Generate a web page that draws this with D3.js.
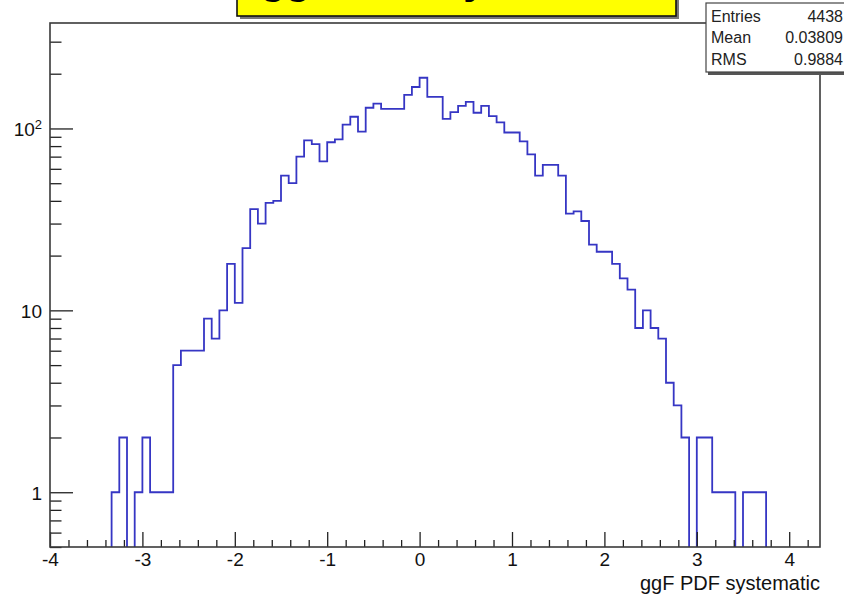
<!DOCTYPE html>
<html>
<head>
<meta charset="utf-8">
<script src="https://cdn.jsdelivr.net/npm/d3@7"></script>
<style>
  html, body { margin: 0; padding: 0; background: #fff; }
  svg { display: block; font-family: "Liberation Sans", Arial, Helvetica, sans-serif; }
</style>
</head>
<body>
<svg id="chart" width="844" height="598"></svg>
<script>
// Histogram title and axis title
const histTitle = "ggF PDF systematic";
const xAxisTitle = "ggF PDF systematic";

// Binning: 100 bins of width 1/12 starting at -4
const xMin = -4;
const binWidth = 1 / 12;

// Bin contents
const counts = [
  0, 0, 0, 0, 0, 0, 0, 0,
  1, 2, 0, 1, 2, 1, 1, 1,
  5, 6, 6, 6, 9, 7, 10, 18, 11, 22, 36, 30, 39, 40,
  55, 50, 70, 86, 82, 66, 84, 87, 105, 116,
  96, 130, 137, 128, 128, 128, 153, 169, 190, 149,
  149, 113, 123, 133, 140, 122, 133, 117, 108, 95,
  95, 85, 72, 55, 63, 63, 55, 34, 35, 31,
  23, 21, 21, 18, 15, 13, 8, 10, 8, 7,
  4, 3, 2, 0, 2, 2, 1, 1, 1, 0,
  1, 1, 1,
  0, 0, 0, 0, 0, 0, 0
];

// Axis ticks
const xMajorTicks = [-4, -3, -2, -1, 0, 1, 2, 3, 4];
const xMajorLabels = ["-4", "-3", "-2", "-1", "0", "1", "2", "3", "4"];
const xMinorStep = 0.2;
const yMajorTicks = [1, 10, 100];
const yMajorLabels = [["1", ""], ["10", ""], ["10", "2"]];

// Statistics box
const statNames = ["Entries", "Mean", "RMS"];
const statValues = ["4438", "0.03809", "0.9884"];

const svg = d3.select("#chart");
const frame = { left: 50, top: 23, right: 820, bottom: 547 };

const xMax = xMin + counts.length * binWidth;
const x = d3.scaleLinear().domain([xMin, xMax]).range([frame.left, frame.right]);
const yMin = 0.5, yMax = 2 * d3.max(counts);
const y = d3.scaleLog().domain([yMin, yMax]).range([frame.bottom, frame.top]);

svg.append("rect").attr("width", 844).attr("height", 598).attr("fill", "#fff");

// clip for the histogram outline
svg.append("clipPath").attr("id", "frameClip")
  .append("rect")
  .attr("x", frame.left).attr("y", frame.top)
  .attr("width", frame.right - frame.left).attr("height", frame.bottom - frame.top);

// step outline of the histogram
const pts = [[x(xMin), frame.bottom]];
counts.forEach((c, i) => {
  const lo = xMin + i * binWidth, hi = lo + binWidth;
  const yy = c > 0 ? y(c) : frame.bottom + 2;
  pts.push([x(lo), yy], [x(hi), yy]);
});
pts.push([x(xMax), frame.bottom]);

svg.append("path")
  .attr("clip-path", "url(#frameClip)")
  .attr("d", d3.line()(pts))
  .attr("fill", "none")
  .attr("stroke", "#3636c4")
  .attr("stroke-width", 1.8)
  .attr("stroke-linejoin", "miter");

// X axis: minor and major ticks pointing up into the frame
const xMinor = d3.range(Math.round((xMax - xMin) / xMinorStep) + 1)
  .map(k => +(xMin + k * xMinorStep).toFixed(4))
  .filter(v => v <= xMax && !xMajorTicks.includes(Math.round(v * 1000) / 1000));

const gx = svg.append("g").attr("transform", `translate(0,${frame.bottom})`);
gx.append("g").call(d3.axisBottom(x).tickValues(xMinor).tickSize(-7).tickFormat(""));
gx.append("g").call(d3.axisBottom(x).tickValues(xMajorTicks).tickSize(-15).tickPadding(6)
  .tickFormat((d, i) => xMajorLabels[i]));
gx.selectAll(".domain").remove();
gx.selectAll("line").attr("stroke", "#222").attr("stroke-width", 1.3);
gx.selectAll("text").attr("font-size", 19).attr("fill", "#111")
  .attr("font-family", "'Liberation Sans', Arial, sans-serif");

// Y axis: logarithmic, decade ticks long, intermediate ticks short
const yMinor = [];
for (let dec = 0.1; dec < yMax; dec *= 10) {
  for (let m = 2; m <= 9; m++) {
    const v = +(m * dec).toPrecision(3);
    if (v >= yMin && v <= yMax && !yMajorTicks.includes(v)) yMinor.push(v);
  }
}
const gy = svg.append("g").attr("transform", `translate(${frame.left},0)`);
gy.append("g").call(d3.axisLeft(y).tickValues(yMinor).tickSize(-11.5).tickFormat(""));
const gyMajor = gy.append("g").call(d3.axisLeft(y).tickValues(yMajorTicks).tickSize(-23)
  .tickPadding(8).tickFormat(""));
gy.selectAll(".domain").remove();
gy.selectAll("line").attr("stroke", "#222").attr("stroke-width", 1.3);
gyMajor.selectAll(".tick").each(function (d, i) {
  const t = d3.select(this).select("text")
    .attr("font-size", 19).attr("fill", "#111").attr("dy", "0.36em")
    .attr("font-family", "'Liberation Sans', Arial, sans-serif");
  const [base, sup] = yMajorLabels[i];
  t.text(null);
  t.append("tspan").text(base);
  if (sup) t.append("tspan").attr("font-size", 13).attr("dy", "-0.55em").text(sup);
});

// frame
svg.append("rect")
  .attr("x", frame.left).attr("y", frame.top)
  .attr("width", frame.right - frame.left).attr("height", frame.bottom - frame.top)
  .attr("fill", "none").attr("stroke", "#3a3a3a").attr("stroke-width", 1.6);

// axis title, right-aligned under the axis
svg.append("text")
  .attr("x", frame.right).attr("y", 590)
  .attr("text-anchor", "end")
  .attr("font-size", 20).attr("fill", "#111")
  .text(xAxisTitle);

// title box (mostly above the page edge)
const tb = { x0: 237, x1: 676, y0: -40, y1: 16 };
svg.append("rect").attr("x", tb.x0 + 3).attr("y", tb.y0 + 3)
  .attr("width", tb.x1 - tb.x0).attr("height", tb.y1 - tb.y0).attr("fill", "#777");
svg.append("clipPath").attr("id", "titleClip").append("rect")
  .attr("x", tb.x0).attr("y", tb.y0).attr("width", tb.x1 - tb.x0).attr("height", tb.y1 - tb.y0);
svg.append("rect").attr("x", tb.x0).attr("y", tb.y0)
  .attr("width", tb.x1 - tb.x0).attr("height", tb.y1 - tb.y0)
  .attr("fill", "#ffff00").attr("stroke", "#111").attr("stroke-width", 1.6);
svg.append("text")
  .attr("clip-path", "url(#titleClip)")
  .attr("x", (tb.x0 + tb.x1) / 2).attr("y", -6)
  .attr("text-anchor", "middle")
  .attr("font-size", 41).attr("font-weight", "bold").attr("fill", "#000")
  .text(histTitle);

// statistics box
const sb = { x0: 706, x1: 850, y0: 3, y1: 72 };
svg.append("rect").attr("x", sb.x0 + 2).attr("y", sb.y0 + 3)
  .attr("width", sb.x1 - sb.x0).attr("height", sb.y1 - sb.y0).attr("fill", "#555");
svg.append("rect").attr("x", sb.x0).attr("y", sb.y0)
  .attr("width", sb.x1 - sb.x0).attr("height", sb.y1 - sb.y0)
  .attr("fill", "#fff").attr("stroke", "#444").attr("stroke-width", 1.2);
const rowY = d3.scalePoint().domain(statNames).range([21.7, 65]);
const sg = svg.append("g").attr("font-size", 16).attr("fill", "#222");
statNames.forEach((n, i) => {
  sg.append("text").attr("x", 711).attr("y", rowY(n)).text(n);
  sg.append("text").attr("x", 843).attr("y", rowY(n)).attr("text-anchor", "end").text(statValues[i]);
});
</script>
</body>
</html>
